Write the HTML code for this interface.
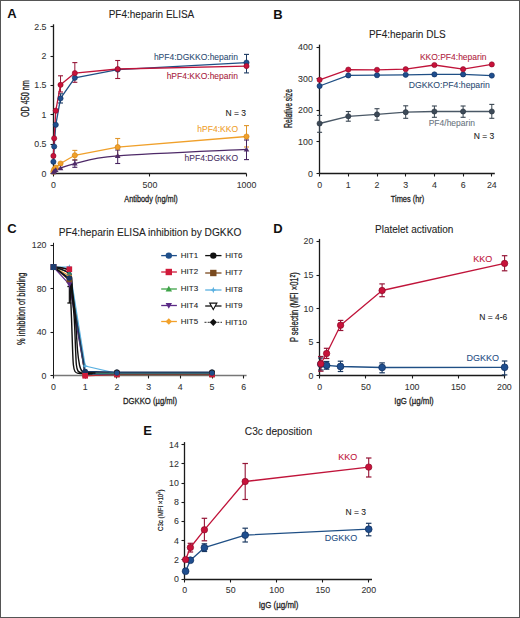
<!DOCTYPE html>
<html><head><meta charset="utf-8"><style>
html,body{margin:0;padding:0;background:#fff;}
body{width:520px;height:618px;overflow:hidden;}
svg{display:block;font-family:"Liberation Sans", sans-serif;}
</style></head><body>
<svg width="520" height="618" viewBox="0 0 520 618">
<rect x="0" y="0" width="520" height="618" fill="#fff"/>
<text x="7.3" y="18.3" font-size="13" text-anchor="start" fill="#111" font-weight="bold" >A</text>
<text x="151.5" y="18" font-size="10" text-anchor="middle" fill="#222" font-weight="normal" stroke="#222" stroke-width="0.08" >PF4:heparin ELISA</text>
<line x1="53.5" y1="173.5" x2="246.5" y2="173.5" stroke="#1a1a1a" stroke-width="1.3" />
<line x1="53.5" y1="24.3" x2="53.5" y2="173.5" stroke="#1a1a1a" stroke-width="1.3" />
<line x1="53.5" y1="173.5" x2="53.5" y2="176.5" stroke="#1a1a1a" stroke-width="1.1" />
<text x="53.4" y="187.5" font-size="8.8" text-anchor="middle" fill="#333" font-weight="normal" stroke="#333" stroke-width="0.08" >0</text>
<line x1="149.5" y1="173.5" x2="149.5" y2="176.5" stroke="#1a1a1a" stroke-width="1.1" />
<text x="149.95" y="187.5" font-size="8.8" text-anchor="middle" fill="#333" font-weight="normal" stroke="#333" stroke-width="0.08" >500</text>
<line x1="246.5" y1="173.5" x2="246.5" y2="176.5" stroke="#1a1a1a" stroke-width="1.1" />
<text x="246.5" y="187.5" font-size="8.8" text-anchor="middle" fill="#333" font-weight="normal" stroke="#333" stroke-width="0.08" >1000</text>
<line x1="50.5" y1="173.5" x2="53.5" y2="173.5" stroke="#1a1a1a" stroke-width="1.1" />
<text x="46.5" y="176.5" font-size="8.8" text-anchor="end" fill="#333" font-weight="normal" stroke="#333" stroke-width="0.08" >0</text>
<line x1="50.5" y1="144.5" x2="53.5" y2="144.5" stroke="#1a1a1a" stroke-width="1.1" />
<text x="46.5" y="147.15" font-size="8.8" text-anchor="end" fill="#333" font-weight="normal" stroke="#333" stroke-width="0.08" >0.5</text>
<line x1="50.5" y1="114.5" x2="53.5" y2="114.5" stroke="#1a1a1a" stroke-width="1.1" />
<text x="46.5" y="117.8" font-size="8.8" text-anchor="end" fill="#333" font-weight="normal" stroke="#333" stroke-width="0.08" >1</text>
<line x1="50.5" y1="85.5" x2="53.5" y2="85.5" stroke="#1a1a1a" stroke-width="1.1" />
<text x="46.5" y="88.45" font-size="8.8" text-anchor="end" fill="#333" font-weight="normal" stroke="#333" stroke-width="0.08" >1.5</text>
<line x1="50.5" y1="56.5" x2="53.5" y2="56.5" stroke="#1a1a1a" stroke-width="1.1" />
<text x="46.5" y="59.1" font-size="8.8" text-anchor="end" fill="#333" font-weight="normal" stroke="#333" stroke-width="0.08" >2</text>
<line x1="50.5" y1="26.5" x2="53.5" y2="26.5" stroke="#1a1a1a" stroke-width="1.1" />
<text x="46.5" y="29.75" font-size="8.8" text-anchor="end" fill="#333" font-weight="normal" stroke="#333" stroke-width="0.08" >2.5</text>
<text x="0" y="0" font-size="9.5" text-anchor="middle" fill="#222" stroke="#222" stroke-width="0.3" font-weight="normal" transform="translate(151,202) scale(0.7735,1)" >Antibody (ng/ml)</text>
<text x="0" y="0" font-size="10" text-anchor="middle" fill="#222" stroke="#222" stroke-width="0.3" font-weight="normal" transform="translate(28.5,98.6) rotate(-90) scale(0.7237,1)" >OD 450 nm</text>
<line x1="246.5" y1="54.4" x2="246.5" y2="72.9" stroke="#1c3a62" stroke-width="1" />
<line x1="244" y1="54.4" x2="249" y2="54.4" stroke="#1c3a62" stroke-width="1.1" />
<line x1="244" y1="72.9" x2="249" y2="72.9" stroke="#1c3a62" stroke-width="1.1" />
<line x1="117.7" y1="60.5" x2="117.7" y2="78.5" stroke="#951536" stroke-width="1" />
<line x1="115.2" y1="60.5" x2="120.2" y2="60.5" stroke="#951536" stroke-width="1.1" />
<line x1="115.2" y1="78.5" x2="120.2" y2="78.5" stroke="#951536" stroke-width="1.1" />
<line x1="74.83" y1="62.6" x2="74.83" y2="82.3" stroke="#951536" stroke-width="1" />
<line x1="72.33" y1="62.6" x2="77.33" y2="62.6" stroke="#951536" stroke-width="1.1" />
<line x1="72.33" y1="82.3" x2="77.33" y2="82.3" stroke="#951536" stroke-width="1.1" />
<line x1="60.54" y1="75.8" x2="60.54" y2="92" stroke="#951536" stroke-width="1" />
<line x1="58.04" y1="75.8" x2="63.04" y2="75.8" stroke="#951536" stroke-width="1.1" />
<line x1="58.04" y1="92" x2="63.04" y2="92" stroke="#951536" stroke-width="1.1" />
<line x1="60.54" y1="93.8" x2="60.54" y2="103" stroke="#1c3a62" stroke-width="1" />
<line x1="58.04" y1="93.8" x2="63.04" y2="93.8" stroke="#1c3a62" stroke-width="1.1" />
<line x1="58.04" y1="103" x2="63.04" y2="103" stroke="#1c3a62" stroke-width="1.1" />
<line x1="246.5" y1="125.6" x2="246.5" y2="147" stroke="#e0962a" stroke-width="1" />
<line x1="244" y1="125.6" x2="249" y2="125.6" stroke="#e0962a" stroke-width="1.1" />
<line x1="244" y1="147" x2="249" y2="147" stroke="#e0962a" stroke-width="1.1" />
<line x1="117.7" y1="138.5" x2="117.7" y2="156" stroke="#e0962a" stroke-width="1" />
<line x1="115.2" y1="138.5" x2="120.2" y2="138.5" stroke="#e0962a" stroke-width="1.1" />
<line x1="115.2" y1="156" x2="120.2" y2="156" stroke="#e0962a" stroke-width="1.1" />
<line x1="74.83" y1="150.4" x2="74.83" y2="160" stroke="#e0962a" stroke-width="1" />
<line x1="72.33" y1="150.4" x2="77.33" y2="150.4" stroke="#e0962a" stroke-width="1.1" />
<line x1="72.33" y1="160" x2="77.33" y2="160" stroke="#e0962a" stroke-width="1.1" />
<line x1="246.5" y1="140" x2="246.5" y2="159.6" stroke="#45235e" stroke-width="1" />
<line x1="244" y1="140" x2="249" y2="140" stroke="#45235e" stroke-width="1.1" />
<line x1="244" y1="159.6" x2="249" y2="159.6" stroke="#45235e" stroke-width="1.1" />
<line x1="117.7" y1="150" x2="117.7" y2="163.5" stroke="#45235e" stroke-width="1" />
<line x1="115.2" y1="150" x2="120.2" y2="150" stroke="#45235e" stroke-width="1.1" />
<line x1="115.2" y1="163.5" x2="120.2" y2="163.5" stroke="#45235e" stroke-width="1.1" />
<line x1="74.83" y1="160" x2="74.83" y2="167.3" stroke="#45235e" stroke-width="1" />
<line x1="72.33" y1="160" x2="77.33" y2="160" stroke="#45235e" stroke-width="1.1" />
<line x1="72.33" y1="167.3" x2="77.33" y2="167.3" stroke="#45235e" stroke-width="1.1" />
<polyline points="53.4,171.74 54.19,169.39 55.78,167.63 60.54,163.52 74.83,155.3 117.7,147.09 246.5,136.52" fill="none" stroke="#f0a02a" stroke-width="1.3" stroke-linejoin="round" />
<path d="M53.4,172.33 C53.53,172.13 53.8,171.54 54.19,171.15 C54.59,170.76 54.72,170.47 55.78,169.98 C56.83,169.49 57.37,169.29 60.54,168.22 C63.72,167.14 65.31,165.58 74.83,163.52 C84.36,161.47 89.09,158.24 117.7,155.89 C146.31,153.54 225.03,150.51 246.5,149.43" fill="none" stroke="#4e2a68" stroke-width="1.3" />
<polyline points="53.4,161.76 54.19,146.5 55.78,124.78 60.54,98.36 74.83,77.82 117.7,69.6 246.5,62.56" fill="none" stroke="#1f4f85" stroke-width="1.3" stroke-linejoin="round" />
<polyline points="53.4,155.89 54.19,138.28 55.78,110.69 60.54,84.86 74.83,73.12 117.7,69.01 246.5,66.08" fill="none" stroke="#c0143a" stroke-width="1.3" stroke-linejoin="round" />
<circle cx="53.4" cy="171.74" r="2.6" fill="#f0a02a" stroke="#d08010" stroke-width="0.6"/>
<circle cx="54.19" cy="169.39" r="2.6" fill="#f0a02a" stroke="#d08010" stroke-width="0.6"/>
<circle cx="55.78" cy="167.63" r="2.6" fill="#f0a02a" stroke="#d08010" stroke-width="0.6"/>
<circle cx="60.54" cy="163.52" r="2.6" fill="#f0a02a" stroke="#d08010" stroke-width="0.6"/>
<circle cx="74.83" cy="155.3" r="2.6" fill="#f0a02a" stroke="#d08010" stroke-width="0.6"/>
<circle cx="117.7" cy="147.09" r="2.6" fill="#f0a02a" stroke="#d08010" stroke-width="0.6"/>
<circle cx="246.5" cy="136.52" r="2.6" fill="#f0a02a" stroke="#d08010" stroke-width="0.6"/>
<path d="M53.4,169.53 L56.2,174.33 L50.6,174.33Z" fill="#4e2a68"/>
<path d="M54.19,168.35 L56.99,173.15 L51.39,173.15Z" fill="#4e2a68"/>
<path d="M55.78,167.18 L58.58,171.98 L52.98,171.98Z" fill="#4e2a68"/>
<path d="M60.54,165.42 L63.34,170.22 L57.74,170.22Z" fill="#4e2a68"/>
<path d="M74.83,160.72 L77.63,165.52 L72.03,165.52Z" fill="#4e2a68"/>
<path d="M117.7,153.09 L120.5,157.89 L114.9,157.89Z" fill="#4e2a68"/>
<path d="M246.5,146.63 L249.3,151.43 L243.7,151.43Z" fill="#4e2a68"/>
<circle cx="53.4" cy="161.76" r="2.6" fill="#1f4e8e" stroke="#0f2d5c" stroke-width="0.6"/>
<circle cx="54.19" cy="146.5" r="2.6" fill="#1f4e8e" stroke="#0f2d5c" stroke-width="0.6"/>
<circle cx="55.78" cy="124.78" r="2.6" fill="#1f4e8e" stroke="#0f2d5c" stroke-width="0.6"/>
<circle cx="60.54" cy="98.36" r="2.6" fill="#1f4e8e" stroke="#0f2d5c" stroke-width="0.6"/>
<circle cx="74.83" cy="77.82" r="2.6" fill="#1f4e8e" stroke="#0f2d5c" stroke-width="0.6"/>
<circle cx="117.7" cy="69.6" r="2.6" fill="#1f4e8e" stroke="#0f2d5c" stroke-width="0.6"/>
<circle cx="246.5" cy="62.56" r="2.6" fill="#1f4e8e" stroke="#0f2d5c" stroke-width="0.6"/>
<circle cx="53.4" cy="155.89" r="2.6" fill="#c8123a" stroke="#8a0a28" stroke-width="0.6"/>
<circle cx="54.19" cy="138.28" r="2.6" fill="#c8123a" stroke="#8a0a28" stroke-width="0.6"/>
<circle cx="55.78" cy="110.69" r="2.6" fill="#c8123a" stroke="#8a0a28" stroke-width="0.6"/>
<circle cx="60.54" cy="84.86" r="2.6" fill="#c8123a" stroke="#8a0a28" stroke-width="0.6"/>
<circle cx="74.83" cy="73.12" r="2.6" fill="#c8123a" stroke="#8a0a28" stroke-width="0.6"/>
<circle cx="117.7" cy="69.01" r="2.6" fill="#c8123a" stroke="#8a0a28" stroke-width="0.6"/>
<circle cx="246.5" cy="66.08" r="2.6" fill="#c8123a" stroke="#8a0a28" stroke-width="0.6"/>
<text x="238" y="59.5" font-size="8.5" text-anchor="end" fill="#2d4c74" font-weight="normal" stroke="#2d4c74" stroke-width="0.08" >hPF4:DGKKO:heparin</text>
<text x="238" y="78.7" font-size="8.5" text-anchor="end" fill="#a81c40" font-weight="normal" stroke="#a81c40" stroke-width="0.08" >hPF4:KKO:heparin</text>
<text x="246" y="115.8" font-size="8.5" text-anchor="end" fill="#222" font-weight="normal" stroke="#222" stroke-width="0.08" >N = 3</text>
<text x="238" y="132" font-size="8.5" text-anchor="end" fill="#f0a02a" font-weight="normal" stroke="#f0a02a" stroke-width="0.08" >hPF4:KKO</text>
<text x="238" y="160.7" font-size="8.5" text-anchor="end" fill="#4a3064" font-weight="normal" stroke="#4a3064" stroke-width="0.08" >hPF4:DGKKO</text>
<text x="273.3" y="18.5" font-size="13" text-anchor="start" fill="#111" font-weight="bold" >B</text>
<text x="407.3" y="37.9" font-size="10" text-anchor="middle" fill="#222" font-weight="normal" stroke="#222" stroke-width="0.08" >PF4:heparin DLS</text>
<line x1="319.5" y1="173.5" x2="494.8" y2="173.5" stroke="#1a1a1a" stroke-width="1.3" />
<line x1="319.5" y1="44.6" x2="319.5" y2="173.5" stroke="#1a1a1a" stroke-width="1.3" />
<line x1="319.5" y1="173.5" x2="319.5" y2="176.5" stroke="#1a1a1a" stroke-width="1.1" />
<text x="319.6" y="187.8" font-size="8.8" text-anchor="middle" fill="#333" font-weight="normal" stroke="#333" stroke-width="0.08" >0</text>
<line x1="348.5" y1="173.5" x2="348.5" y2="176.5" stroke="#1a1a1a" stroke-width="1.1" />
<text x="348.3" y="187.8" font-size="8.8" text-anchor="middle" fill="#333" font-weight="normal" stroke="#333" stroke-width="0.08" >1</text>
<line x1="377.5" y1="173.5" x2="377.5" y2="176.5" stroke="#1a1a1a" stroke-width="1.1" />
<text x="377" y="187.8" font-size="8.8" text-anchor="middle" fill="#333" font-weight="normal" stroke="#333" stroke-width="0.08" >2</text>
<line x1="405.5" y1="173.5" x2="405.5" y2="176.5" stroke="#1a1a1a" stroke-width="1.1" />
<text x="405.7" y="187.8" font-size="8.8" text-anchor="middle" fill="#333" font-weight="normal" stroke="#333" stroke-width="0.08" >3</text>
<line x1="434.5" y1="173.5" x2="434.5" y2="176.5" stroke="#1a1a1a" stroke-width="1.1" />
<text x="434.4" y="187.8" font-size="8.8" text-anchor="middle" fill="#333" font-weight="normal" stroke="#333" stroke-width="0.08" >4</text>
<line x1="463.5" y1="173.5" x2="463.5" y2="176.5" stroke="#1a1a1a" stroke-width="1.1" />
<text x="463.1" y="187.8" font-size="8.8" text-anchor="middle" fill="#333" font-weight="normal" stroke="#333" stroke-width="0.08" >6</text>
<line x1="491.5" y1="173.5" x2="491.5" y2="176.5" stroke="#1a1a1a" stroke-width="1.1" />
<text x="491.8" y="187.8" font-size="8.8" text-anchor="middle" fill="#333" font-weight="normal" stroke="#333" stroke-width="0.08" >24</text>
<line x1="316.5" y1="173.5" x2="319.5" y2="173.5" stroke="#1a1a1a" stroke-width="1.1" />
<text x="312.8" y="176.5" font-size="8.8" text-anchor="end" fill="#333" font-weight="normal" stroke="#333" stroke-width="0.08" >0</text>
<line x1="316.5" y1="141.5" x2="319.5" y2="141.5" stroke="#1a1a1a" stroke-width="1.1" />
<text x="312.8" y="144.9" font-size="8.8" text-anchor="end" fill="#333" font-weight="normal" stroke="#333" stroke-width="0.08" >100</text>
<line x1="316.5" y1="110.5" x2="319.5" y2="110.5" stroke="#1a1a1a" stroke-width="1.1" />
<text x="312.8" y="113.3" font-size="8.8" text-anchor="end" fill="#333" font-weight="normal" stroke="#333" stroke-width="0.08" >200</text>
<line x1="316.5" y1="78.5" x2="319.5" y2="78.5" stroke="#1a1a1a" stroke-width="1.1" />
<text x="312.8" y="81.7" font-size="8.8" text-anchor="end" fill="#333" font-weight="normal" stroke="#333" stroke-width="0.08" >300</text>
<line x1="316.5" y1="47.5" x2="319.5" y2="47.5" stroke="#1a1a1a" stroke-width="1.1" />
<text x="312.8" y="50.1" font-size="8.8" text-anchor="end" fill="#333" font-weight="normal" stroke="#333" stroke-width="0.08" >400</text>
<text x="0" y="0" font-size="9.5" text-anchor="middle" fill="#222" stroke="#222" stroke-width="0.3" font-weight="normal" transform="translate(407.5,202) scale(0.7805,1)" >Times (hr)</text>
<text x="0" y="0" font-size="10" text-anchor="middle" fill="#222" stroke="#222" stroke-width="0.3" font-weight="normal" transform="translate(292.3,108.4) rotate(-90) scale(0.6880,1)" >Relative size</text>
<line x1="319.6" y1="115.4" x2="319.6" y2="132.3" stroke="#3a4652" stroke-width="1" />
<line x1="317.1" y1="115.4" x2="322.1" y2="115.4" stroke="#3a4652" stroke-width="1.1" />
<line x1="317.1" y1="132.3" x2="322.1" y2="132.3" stroke="#3a4652" stroke-width="1.1" />
<line x1="348.3" y1="111.5" x2="348.3" y2="121.2" stroke="#3a4652" stroke-width="1" />
<line x1="345.8" y1="111.5" x2="350.8" y2="111.5" stroke="#3a4652" stroke-width="1.1" />
<line x1="345.8" y1="121.2" x2="350.8" y2="121.2" stroke="#3a4652" stroke-width="1.1" />
<line x1="377" y1="108.7" x2="377" y2="120.2" stroke="#3a4652" stroke-width="1" />
<line x1="374.5" y1="108.7" x2="379.5" y2="108.7" stroke="#3a4652" stroke-width="1.1" />
<line x1="374.5" y1="120.2" x2="379.5" y2="120.2" stroke="#3a4652" stroke-width="1.1" />
<line x1="405.7" y1="105.8" x2="405.7" y2="118.3" stroke="#3a4652" stroke-width="1" />
<line x1="403.2" y1="105.8" x2="408.2" y2="105.8" stroke="#3a4652" stroke-width="1.1" />
<line x1="403.2" y1="118.3" x2="408.2" y2="118.3" stroke="#3a4652" stroke-width="1.1" />
<line x1="434.4" y1="106" x2="434.4" y2="117.3" stroke="#3a4652" stroke-width="1" />
<line x1="431.9" y1="106" x2="436.9" y2="106" stroke="#3a4652" stroke-width="1.1" />
<line x1="431.9" y1="117.3" x2="436.9" y2="117.3" stroke="#3a4652" stroke-width="1.1" />
<line x1="463.1" y1="106" x2="463.1" y2="117.3" stroke="#3a4652" stroke-width="1" />
<line x1="460.6" y1="106" x2="465.6" y2="106" stroke="#3a4652" stroke-width="1.1" />
<line x1="460.6" y1="117.3" x2="465.6" y2="117.3" stroke="#3a4652" stroke-width="1.1" />
<line x1="491.8" y1="104.4" x2="491.8" y2="118.3" stroke="#3a4652" stroke-width="1" />
<line x1="489.3" y1="104.4" x2="494.3" y2="104.4" stroke="#3a4652" stroke-width="1.1" />
<line x1="489.3" y1="118.3" x2="494.3" y2="118.3" stroke="#3a4652" stroke-width="1.1" />
<polyline points="319.6,123.5 348.3,116.3 377,114.4 405.7,112.2 434.4,111.5 463.1,111.5 491.8,111.5" fill="none" stroke="#4a5866" stroke-width="1.3" stroke-linejoin="round" />
<polyline points="319.6,86 348.3,75.4 377,75.2 405.7,74.8 434.4,74.4 463.1,74.4 491.8,75.6" fill="none" stroke="#1f4f85" stroke-width="1.3" stroke-linejoin="round" />
<polyline points="319.6,79.8 348.3,69.6 377,69.8 405.7,69.2 434.4,65 463.1,69.2 491.8,64.4" fill="none" stroke="#c0143a" stroke-width="1.3" stroke-linejoin="round" />
<circle cx="319.6" cy="123.5" r="2.6" fill="#3d4a58" stroke="#2a3440" stroke-width="0.6"/>
<circle cx="348.3" cy="116.3" r="2.6" fill="#3d4a58" stroke="#2a3440" stroke-width="0.6"/>
<circle cx="377" cy="114.4" r="2.6" fill="#3d4a58" stroke="#2a3440" stroke-width="0.6"/>
<circle cx="405.7" cy="112.2" r="2.6" fill="#3d4a58" stroke="#2a3440" stroke-width="0.6"/>
<circle cx="434.4" cy="111.5" r="2.6" fill="#3d4a58" stroke="#2a3440" stroke-width="0.6"/>
<circle cx="463.1" cy="111.5" r="2.6" fill="#3d4a58" stroke="#2a3440" stroke-width="0.6"/>
<circle cx="491.8" cy="111.5" r="2.6" fill="#3d4a58" stroke="#2a3440" stroke-width="0.6"/>
<circle cx="319.6" cy="86" r="2.6" fill="#1f4e8e" stroke="#0f2d5c" stroke-width="0.6"/>
<circle cx="348.3" cy="75.4" r="2.6" fill="#1f4e8e" stroke="#0f2d5c" stroke-width="0.6"/>
<circle cx="377" cy="75.2" r="2.6" fill="#1f4e8e" stroke="#0f2d5c" stroke-width="0.6"/>
<circle cx="405.7" cy="74.8" r="2.6" fill="#1f4e8e" stroke="#0f2d5c" stroke-width="0.6"/>
<circle cx="434.4" cy="74.4" r="2.6" fill="#1f4e8e" stroke="#0f2d5c" stroke-width="0.6"/>
<circle cx="463.1" cy="74.4" r="2.6" fill="#1f4e8e" stroke="#0f2d5c" stroke-width="0.6"/>
<circle cx="491.8" cy="75.6" r="2.6" fill="#1f4e8e" stroke="#0f2d5c" stroke-width="0.6"/>
<circle cx="319.6" cy="79.8" r="2.6" fill="#c8123a" stroke="#8a0a28" stroke-width="0.6"/>
<circle cx="348.3" cy="69.6" r="2.6" fill="#c8123a" stroke="#8a0a28" stroke-width="0.6"/>
<circle cx="377" cy="69.8" r="2.6" fill="#c8123a" stroke="#8a0a28" stroke-width="0.6"/>
<circle cx="405.7" cy="69.2" r="2.6" fill="#c8123a" stroke="#8a0a28" stroke-width="0.6"/>
<circle cx="434.4" cy="65" r="2.6" fill="#c8123a" stroke="#8a0a28" stroke-width="0.6"/>
<circle cx="463.1" cy="69.2" r="2.6" fill="#c8123a" stroke="#8a0a28" stroke-width="0.6"/>
<circle cx="491.8" cy="64.4" r="2.6" fill="#c8123a" stroke="#8a0a28" stroke-width="0.6"/>
<text x="486.5" y="59.6" font-size="8.5" text-anchor="end" fill="#b01c40" font-weight="normal" stroke="#b01c40" stroke-width="0.08" >KKO:PF4:heparin</text>
<text x="489.8" y="88.3" font-size="8.7" text-anchor="end" fill="#2d4c74" font-weight="normal" stroke="#2d4c74" stroke-width="0.08" >DGKKO:PF4:heparin</text>
<text x="475" y="125.6" font-size="8.5" text-anchor="end" fill="#6a7480" font-weight="normal" stroke="#6a7480" stroke-width="0.08" >PF4/heparin</text>
<text x="494.2" y="138.5" font-size="8.5" text-anchor="end" fill="#222" font-weight="normal" stroke="#222" stroke-width="0.08" >N = 3</text>
<text x="7.3" y="232.6" font-size="13" text-anchor="start" fill="#111" font-weight="bold" >C</text>
<text x="0" y="0" font-size="10" text-anchor="middle" fill="#222" stroke="#222" stroke-width="0.08" font-weight="normal" transform="translate(150,235.6) scale(1.0193,1)" >PF4:heparin ELISA inhibition by DGKKO</text>
<line x1="53.5" y1="375.5" x2="246.6" y2="375.5" stroke="#777" stroke-width="1.6" />
<line x1="53.5" y1="242.8" x2="53.5" y2="375.5" stroke="#1a1a1a" stroke-width="1.0" />
<line x1="53.5" y1="375.5" x2="53.5" y2="378.5" stroke="#1a1a1a" stroke-width="1.1" />
<text x="53.5" y="390" font-size="8.8" text-anchor="middle" fill="#333" font-weight="normal" stroke="#333" stroke-width="0.08" >0</text>
<line x1="85.5" y1="375.5" x2="85.5" y2="378.5" stroke="#1a1a1a" stroke-width="1.1" />
<text x="85.2" y="390" font-size="8.8" text-anchor="middle" fill="#333" font-weight="normal" stroke="#333" stroke-width="0.08" >1</text>
<line x1="116.5" y1="375.5" x2="116.5" y2="378.5" stroke="#1a1a1a" stroke-width="1.1" />
<text x="116.9" y="390" font-size="8.8" text-anchor="middle" fill="#333" font-weight="normal" stroke="#333" stroke-width="0.08" >2</text>
<line x1="148.5" y1="375.5" x2="148.5" y2="378.5" stroke="#1a1a1a" stroke-width="1.1" />
<text x="148.6" y="390" font-size="8.8" text-anchor="middle" fill="#333" font-weight="normal" stroke="#333" stroke-width="0.08" >3</text>
<line x1="180.5" y1="375.5" x2="180.5" y2="378.5" stroke="#1a1a1a" stroke-width="1.1" />
<text x="180.3" y="390" font-size="8.8" text-anchor="middle" fill="#333" font-weight="normal" stroke="#333" stroke-width="0.08" >4</text>
<line x1="212.5" y1="375.5" x2="212.5" y2="378.5" stroke="#1a1a1a" stroke-width="1.1" />
<text x="212" y="390" font-size="8.8" text-anchor="middle" fill="#333" font-weight="normal" stroke="#333" stroke-width="0.08" >5</text>
<line x1="243.5" y1="375.5" x2="243.5" y2="378.5" stroke="#1a1a1a" stroke-width="1.1" />
<text x="243.7" y="390" font-size="8.8" text-anchor="middle" fill="#333" font-weight="normal" stroke="#333" stroke-width="0.08" >6</text>
<line x1="50.5" y1="375.5" x2="53.5" y2="375.5" stroke="#1a1a1a" stroke-width="1.1" />
<text x="46.5" y="378.8" font-size="8.8" text-anchor="end" fill="#333" font-weight="normal" stroke="#333" stroke-width="0.08" >0</text>
<line x1="50.5" y1="332.5" x2="53.5" y2="332.5" stroke="#1a1a1a" stroke-width="1.1" />
<text x="46.5" y="335.3" font-size="8.8" text-anchor="end" fill="#333" font-weight="normal" stroke="#333" stroke-width="0.08" >40</text>
<line x1="50.5" y1="288.5" x2="53.5" y2="288.5" stroke="#1a1a1a" stroke-width="1.1" />
<text x="46.5" y="291.8" font-size="8.8" text-anchor="end" fill="#333" font-weight="normal" stroke="#333" stroke-width="0.08" >80</text>
<line x1="50.5" y1="245.5" x2="53.5" y2="245.5" stroke="#1a1a1a" stroke-width="1.1" />
<text x="46.5" y="248.3" font-size="8.8" text-anchor="end" fill="#333" font-weight="normal" stroke="#333" stroke-width="0.08" >120</text>
<text x="0" y="0" font-size="9.5" text-anchor="middle" fill="#222" stroke="#222" stroke-width="0.3" font-weight="normal" transform="translate(150,404) scale(0.8096,1)" >DGKKO (µg/ml)</text>
<text x="0" y="0" font-size="10" text-anchor="middle" fill="#222" stroke="#222" stroke-width="0.3" font-weight="normal" transform="translate(25,308.8) rotate(-90) scale(0.7442,1)" >% inhibition of binding</text>
<line x1="69.35" y1="286.5" x2="69.35" y2="303" stroke="#111" stroke-width="1.2" />
<line x1="67.35" y1="286.5" x2="71.35" y2="286.5" stroke="#111" stroke-width="1.32" />
<line x1="67.35" y1="303" x2="71.35" y2="303" stroke="#111" stroke-width="1.32" />
<line x1="85" y1="373.4" x2="212" y2="373.4" stroke="#111" stroke-width="2.2" />
<polyline points="53.5,267.05 69.35,269.23 85.2,375.8 116.9,374.39 212,374.39" fill="none" stroke="#d01a3a" stroke-width="1.2" stroke-linejoin="round" />
<polyline points="53.5,267.05 69.35,267.05 85.2,366.01 116.9,373.41 212,373.41" fill="none" stroke="#5ab0e0" stroke-width="1.2" stroke-linejoin="round" />
<polyline points="53.5,267.05 69.35,275.75 85.2,374.71 116.9,374.17 212,374.17" fill="none" stroke="#f2a12b" stroke-width="1.2" stroke-linejoin="round" />
<polyline points="53.5,267.05 69.35,280.1 85.2,374.71 116.9,374.6 212,374.6" fill="none" stroke="#7a4a1e" stroke-width="1.2" stroke-linejoin="round" />
<polyline points="53.5,267.05 69.35,284.45 85.2,374.71 116.9,373.62 212,373.62" fill="none" stroke="#5b2a86" stroke-width="1.2" stroke-linejoin="round" />
<polyline points="53.5,267.05 69.35,272.49 85.2,374.17 116.9,373.19 212,373.19" fill="none" stroke="#2f7a6a" stroke-width="1.2" stroke-linejoin="round" />
<polyline points="53.5,267.05 69.35,277.93 85.2,371.45 116.9,372.21 212,372.21" fill="none" stroke="#1a3560" stroke-width="1.2" stroke-linejoin="round" />
<path d="M53.5,266.8 C56.08,269 66.2,275.8 69,280 C71.8,284.2 69.88,285.67 70.3,292 C70.72,298.33 71.12,308.33 71.5,318 C71.88,327.67 72.28,342.17 72.6,350 C72.92,357.83 73,361.42 73.4,365 C73.8,368.58 74.15,370.1 75,371.5 C75.85,372.9 76.83,373.02 78.5,373.4 C80.17,373.78 82.75,373.73 85,373.8 C87.25,373.87 90.83,373.8 92,373.8" fill="none" stroke="#111" stroke-width="1.4" stroke-linecap="round"/>
<path d="M53.5,266.8 C56.15,268 66.35,269.8 69.4,274 C72.45,278.2 71,284.67 71.8,292 C72.6,299.33 73.57,308.33 74.2,318 C74.83,327.67 75.23,342.17 75.6,350 C75.97,357.83 76,361.5 76.4,365 C76.8,368.5 77.15,369.68 78,371 C78.85,372.32 80.17,372.5 81.5,372.9 C82.83,373.3 84.25,373.32 86,373.4 C87.75,373.48 91,373.4 92,373.4" fill="none" stroke="#111" stroke-width="1.4" stroke-linecap="round"/>
<path d="M53.5,266.8 C56.18,267.5 66.42,266.8 69.6,271 C72.78,275.2 71.63,284.17 72.6,292 C73.57,299.83 74.58,308.33 75.4,318 C76.22,327.67 76.82,342.17 77.5,350 C78.18,357.83 78.83,361.58 79.5,365 C80.17,368.42 80.67,369.23 81.5,370.5 C82.33,371.77 83.08,372.18 84.5,372.6 C85.92,373.02 88.25,372.93 90,373 C91.75,373.07 94.17,373 95,373" fill="none" stroke="#111" stroke-width="1.4" stroke-linecap="round"/>
<path d="M53.5,264.25 L54.62,267.05 L53.5,269.85 L52.38,267.05Z M50.7,267.05 L53.5,265.93 L56.3,267.05 L53.5,268.17Z" fill="#5ab0e0"/>
<path d="M69.35,264.25 L70.47,267.05 L69.35,269.85 L68.23,267.05Z M66.55,267.05 L69.35,265.93 L72.15,267.05 L69.35,268.17Z" fill="#5ab0e0"/>
<path d="M85.2,363.21 L86.32,366.01 L85.2,368.81 L84.08,366.01Z M82.4,366.01 L85.2,364.89 L88,366.01 L85.2,367.13Z" fill="#5ab0e0"/>
<path d="M116.9,370.61 L118.02,373.41 L116.9,376.21 L115.78,373.41Z M114.1,373.41 L116.9,372.29 L119.7,373.41 L116.9,374.53Z" fill="#5ab0e0"/>
<path d="M212,370.61 L213.12,373.41 L212,376.21 L210.88,373.41Z M209.2,373.41 L212,372.29 L214.8,373.41 L212,374.53Z" fill="#5ab0e0"/>
<path d="M53.5,264.25 L56.3,267.05 L53.5,269.85 L50.7,267.05Z" fill="#f2a12b"/>
<path d="M69.35,272.95 L72.15,275.75 L69.35,278.55 L66.55,275.75Z" fill="#f2a12b"/>
<path d="M85.2,371.91 L88,374.71 L85.2,377.51 L82.4,374.71Z" fill="#f2a12b"/>
<path d="M116.9,371.37 L119.7,374.17 L116.9,376.97 L114.1,374.17Z" fill="#f2a12b"/>
<path d="M212,371.37 L214.8,374.17 L212,376.97 L209.2,374.17Z" fill="#f2a12b"/>
<rect x="50.7" y="264.25" width="5.6" height="5.6" fill="#7a4a1e"/>
<rect x="66.55" y="277.3" width="5.6" height="5.6" fill="#7a4a1e"/>
<rect x="82.4" y="371.91" width="5.6" height="5.6" fill="#7a4a1e"/>
<rect x="114.1" y="371.8" width="5.6" height="5.6" fill="#7a4a1e"/>
<rect x="209.2" y="371.8" width="5.6" height="5.6" fill="#7a4a1e"/>
<path d="M53.5,269.85 L56.3,264.81 L50.7,264.81Z" fill="#5b2a86"/>
<path d="M69.35,287.25 L72.15,282.21 L66.55,282.21Z" fill="#5b2a86"/>
<path d="M85.2,377.51 L88,372.47 L82.4,372.47Z" fill="#5b2a86"/>
<path d="M116.9,376.43 L119.7,371.38 L114.1,371.38Z" fill="#5b2a86"/>
<path d="M212,376.43 L214.8,371.38 L209.2,371.38Z" fill="#5b2a86"/>
<path d="M53.5,264.25 L56.3,269.29 L50.7,269.29Z" fill="#2f7a6a"/>
<path d="M69.35,269.69 L72.15,274.73 L66.55,274.73Z" fill="#2f7a6a"/>
<path d="M85.2,371.37 L88,376.41 L82.4,376.41Z" fill="#2f7a6a"/>
<path d="M116.9,370.39 L119.7,375.43 L114.1,375.43Z" fill="#2f7a6a"/>
<path d="M212,370.39 L214.8,375.43 L209.2,375.43Z" fill="#2f7a6a"/>
<circle cx="69.35" cy="277.93" r="2.8" fill="#1a3560"/>
<circle cx="85.2" cy="371.45" r="2.8" fill="#1a3560"/>
<circle cx="116.9" cy="372.21" r="2.8" fill="#1a3560"/>
<circle cx="212" cy="372.21" r="2.8" fill="#1a3560"/>
<rect x="50.7" y="264.25" width="5.6" height="5.6" fill="#d01a3a"/>
<rect x="66.55" y="266.43" width="5.6" height="5.6" fill="#d01a3a"/>
<rect x="82.4" y="373" width="5.6" height="5.6" fill="#d01a3a"/>
<rect x="114.1" y="371.59" width="5.6" height="5.6" fill="#d01a3a"/>
<rect x="209.2" y="371.59" width="5.6" height="5.6" fill="#d01a3a"/>
<rect x="50.5" y="264.05" width="6" height="6" fill="#1f3f70"/>
<circle cx="116.9" cy="372.54" r="3" fill="#222"/>
<circle cx="212" cy="372.54" r="3" fill="#222"/>
<circle cx="116.9" cy="373.08" r="2.5" fill="#1f4f8a"/>
<circle cx="212" cy="373.08" r="2.5" fill="#1f4f8a"/>
<line x1="161.2" y1="255.6" x2="176.9" y2="255.6" stroke="#1f4f8a" stroke-width="1.3" />
<circle cx="168.8" cy="255.6" r="3.2" fill="#1f4f8a"/>
<text x="180.8" y="257.9" font-size="8" text-anchor="start" fill="#222" font-weight="normal" stroke="#222" stroke-width="0.08" >HIT1</text>
<line x1="161.2" y1="272" x2="176.9" y2="272" stroke="#d01a3a" stroke-width="1.3" />
<rect x="165.6" y="268.8" width="6.4" height="6.4" fill="#d01a3a"/>
<text x="180.8" y="274.3" font-size="8" text-anchor="start" fill="#222" font-weight="normal" stroke="#222" stroke-width="0.08" >HIT2</text>
<line x1="161.2" y1="289" x2="176.9" y2="289" stroke="#3ea348" stroke-width="1.3" />
<path d="M168.8,285.8 L172,291.56 L165.6,291.56Z" fill="#3ea348"/>
<text x="180.8" y="291.3" font-size="8" text-anchor="start" fill="#222" font-weight="normal" stroke="#222" stroke-width="0.08" >HIT3</text>
<line x1="161.2" y1="305.5" x2="176.9" y2="305.5" stroke="#5b2a86" stroke-width="1.3" />
<path d="M168.8,308.7 L172,302.94 L165.6,302.94Z" fill="#5b2a86"/>
<text x="180.8" y="307.8" font-size="8" text-anchor="start" fill="#222" font-weight="normal" stroke="#222" stroke-width="0.08" >HIT4</text>
<line x1="161.2" y1="321.5" x2="176.9" y2="321.5" stroke="#f2a12b" stroke-width="1.3" />
<path d="M168.8,318.3 L172,321.5 L168.8,324.7 L165.6,321.5Z" fill="#f2a12b"/>
<text x="180.8" y="323.8" font-size="8" text-anchor="start" fill="#222" font-weight="normal" stroke="#222" stroke-width="0.08" >HIT5</text>
<line x1="205.2" y1="255.6" x2="221.5" y2="255.6" stroke="#111" stroke-width="1.3" />
<circle cx="213.3" cy="255.6" r="3.2" fill="#111"/>
<text x="225.2" y="257.9" font-size="8" text-anchor="start" fill="#222" font-weight="normal" stroke="#222" stroke-width="0.08" >HIT6</text>
<line x1="205.2" y1="273" x2="221.5" y2="273" stroke="#7a4a1e" stroke-width="1.3" />
<rect x="210.1" y="269.8" width="6.4" height="6.4" fill="#7a4a1e"/>
<text x="225.2" y="275.3" font-size="8" text-anchor="start" fill="#222" font-weight="normal" stroke="#222" stroke-width="0.08" >HIT7</text>
<line x1="205.2" y1="290" x2="221.5" y2="290" stroke="#5ab0e0" stroke-width="1.3" />
<path d="M213.3,286.8 L214.58,290 L213.3,293.2 L212.02,290Z M210.1,290 L213.3,288.72 L216.5,290 L213.3,291.28Z" fill="#5ab0e0"/>
<text x="225.2" y="292.3" font-size="8" text-anchor="start" fill="#222" font-weight="normal" stroke="#222" stroke-width="0.08" >HIT8</text>
<line x1="205.2" y1="306" x2="221.5" y2="306" stroke="#111" stroke-width="1.3" />
<path d="M213.3,309.6 L216.9,303.12 L209.7,303.12Z" fill="#fff" stroke="#111" stroke-width="1.1"/>
<text x="225.2" y="308.3" font-size="8" text-anchor="start" fill="#222" font-weight="normal" stroke="#222" stroke-width="0.08" >HIT9</text>
<line x1="204.5" y1="322.3" x2="222" y2="322.3" stroke="#111" stroke-width="0.9" stroke-dasharray="2,1.2"/>
<path d="M213.3,318.7 L216.9,322.3 L213.3,325.9 L209.7,322.3Z" fill="#111"/>
<text x="225.2" y="324.6" font-size="8" text-anchor="start" fill="#222" font-weight="normal" stroke="#222" stroke-width="0.08" >HIT10</text>
<text x="273.3" y="232.6" font-size="13" text-anchor="start" fill="#111" font-weight="bold" >D</text>
<text x="414.2" y="232.7" font-size="10" text-anchor="middle" fill="#222" font-weight="normal" stroke="#222" stroke-width="0.08" >Platelet activation</text>
<line x1="319.5" y1="375.5" x2="505.4" y2="375.5" stroke="#1a1a1a" stroke-width="1.3" />
<line x1="319.5" y1="238.9" x2="319.5" y2="375.5" stroke="#1a1a1a" stroke-width="1.3" />
<line x1="319.5" y1="375.5" x2="319.5" y2="378.5" stroke="#1a1a1a" stroke-width="1.1" />
<text x="319.8" y="389.8" font-size="8.8" text-anchor="middle" fill="#333" font-weight="normal" stroke="#333" stroke-width="0.08" >0</text>
<line x1="365.5" y1="375.5" x2="365.5" y2="378.5" stroke="#1a1a1a" stroke-width="1.1" />
<text x="365.95" y="389.8" font-size="8.8" text-anchor="middle" fill="#333" font-weight="normal" stroke="#333" stroke-width="0.08" >50</text>
<line x1="412.5" y1="375.5" x2="412.5" y2="378.5" stroke="#1a1a1a" stroke-width="1.1" />
<text x="412.1" y="389.8" font-size="8.8" text-anchor="middle" fill="#333" font-weight="normal" stroke="#333" stroke-width="0.08" >100</text>
<line x1="458.5" y1="375.5" x2="458.5" y2="378.5" stroke="#1a1a1a" stroke-width="1.1" />
<text x="458.25" y="389.8" font-size="8.8" text-anchor="middle" fill="#333" font-weight="normal" stroke="#333" stroke-width="0.08" >150</text>
<line x1="504.5" y1="375.5" x2="504.5" y2="378.5" stroke="#1a1a1a" stroke-width="1.1" />
<text x="504.4" y="389.8" font-size="8.8" text-anchor="middle" fill="#333" font-weight="normal" stroke="#333" stroke-width="0.08" >200</text>
<line x1="316.5" y1="375.5" x2="319.5" y2="375.5" stroke="#1a1a1a" stroke-width="1.1" />
<text x="313.3" y="378.8" font-size="8.8" text-anchor="end" fill="#333" font-weight="normal" stroke="#333" stroke-width="0.08" >0</text>
<line x1="316.5" y1="342.5" x2="319.5" y2="342.5" stroke="#1a1a1a" stroke-width="1.1" />
<text x="313.3" y="345.2" font-size="8.8" text-anchor="end" fill="#333" font-weight="normal" stroke="#333" stroke-width="0.08" >5</text>
<line x1="316.5" y1="308.5" x2="319.5" y2="308.5" stroke="#1a1a1a" stroke-width="1.1" />
<text x="313.3" y="311.6" font-size="8.8" text-anchor="end" fill="#333" font-weight="normal" stroke="#333" stroke-width="0.08" >10</text>
<line x1="316.5" y1="275.5" x2="319.5" y2="275.5" stroke="#1a1a1a" stroke-width="1.1" />
<text x="313.3" y="278" font-size="8.8" text-anchor="end" fill="#333" font-weight="normal" stroke="#333" stroke-width="0.08" >15</text>
<line x1="316.5" y1="241.5" x2="319.5" y2="241.5" stroke="#1a1a1a" stroke-width="1.1" />
<text x="313.3" y="244.4" font-size="8.8" text-anchor="end" fill="#333" font-weight="normal" stroke="#333" stroke-width="0.08" >20</text>
<text x="0" y="0" font-size="9.5" text-anchor="middle" fill="#222" stroke="#222" stroke-width="0.3" font-weight="normal" transform="translate(414,404.2) scale(0.8281,1)" >IgG (µg/ml)</text>
<g transform="translate(298.3,307.2) rotate(-90) scale(0.75,1)"><text x="0" y="0" font-size="10" text-anchor="middle" fill="#222" stroke="#222" stroke-width="0.3">P selectin (MFI ×01<tspan dy="-3.5" font-size="6.5">2</tspan><tspan dy="3.5">)</tspan></text></g>
<line x1="320.8" y1="358" x2="320.8" y2="370" stroke="#1c3a62" stroke-width="1.1" />
<line x1="318.05" y1="358" x2="323.55" y2="358" stroke="#1c3a62" stroke-width="1.2100000000000002" />
<line x1="318.05" y1="370" x2="323.55" y2="370" stroke="#1c3a62" stroke-width="1.2100000000000002" />
<line x1="326.6" y1="361.5" x2="326.6" y2="369.2" stroke="#1c3a62" stroke-width="1.1" />
<line x1="323.85" y1="361.5" x2="329.35" y2="361.5" stroke="#1c3a62" stroke-width="1.2100000000000002" />
<line x1="323.85" y1="369.2" x2="329.35" y2="369.2" stroke="#1c3a62" stroke-width="1.2100000000000002" />
<line x1="340.5" y1="361.2" x2="340.5" y2="371.5" stroke="#1c3a62" stroke-width="1.1" />
<line x1="337.75" y1="361.2" x2="343.25" y2="361.2" stroke="#1c3a62" stroke-width="1.2100000000000002" />
<line x1="337.75" y1="371.5" x2="343.25" y2="371.5" stroke="#1c3a62" stroke-width="1.2100000000000002" />
<line x1="382.1" y1="362.9" x2="382.1" y2="372.8" stroke="#1c3a62" stroke-width="1.1" />
<line x1="379.35" y1="362.9" x2="384.85" y2="362.9" stroke="#1c3a62" stroke-width="1.2100000000000002" />
<line x1="379.35" y1="372.8" x2="384.85" y2="372.8" stroke="#1c3a62" stroke-width="1.2100000000000002" />
<line x1="504.6" y1="361" x2="504.6" y2="374.9" stroke="#1c3a62" stroke-width="1.1" />
<line x1="501.85" y1="361" x2="507.35" y2="361" stroke="#1c3a62" stroke-width="1.2100000000000002" />
<line x1="501.85" y1="374.9" x2="507.35" y2="374.9" stroke="#1c3a62" stroke-width="1.2100000000000002" />
<polyline points="320.8,364.2 326.6,365.4 340.5,366.5 382.1,367.5 504.6,367.3" fill="none" stroke="#1f4f85" stroke-width="1.3" stroke-linejoin="round" />
<circle cx="320.8" cy="364.2" r="3.4" fill="#1f4e8e" stroke="#0f2d5c" stroke-width="0.7"/>
<circle cx="326.6" cy="365.4" r="3.4" fill="#1f4e8e" stroke="#0f2d5c" stroke-width="0.7"/>
<circle cx="340.5" cy="366.5" r="3.4" fill="#1f4e8e" stroke="#0f2d5c" stroke-width="0.7"/>
<circle cx="382.1" cy="367.5" r="3.4" fill="#1f4e8e" stroke="#0f2d5c" stroke-width="0.7"/>
<circle cx="504.6" cy="367.3" r="3.4" fill="#1f4e8e" stroke="#0f2d5c" stroke-width="0.7"/>
<line x1="320.8" y1="356.5" x2="320.8" y2="371.2" stroke="#951536" stroke-width="1.1" />
<line x1="318.05" y1="356.5" x2="323.55" y2="356.5" stroke="#951536" stroke-width="1.2100000000000002" />
<line x1="318.05" y1="371.2" x2="323.55" y2="371.2" stroke="#951536" stroke-width="1.2100000000000002" />
<line x1="326.6" y1="348.3" x2="326.6" y2="358.5" stroke="#951536" stroke-width="1.1" />
<line x1="323.85" y1="348.3" x2="329.35" y2="348.3" stroke="#951536" stroke-width="1.2100000000000002" />
<line x1="323.85" y1="358.5" x2="329.35" y2="358.5" stroke="#951536" stroke-width="1.2100000000000002" />
<line x1="340.6" y1="320.4" x2="340.6" y2="330.5" stroke="#951536" stroke-width="1.1" />
<line x1="337.85" y1="320.4" x2="343.35" y2="320.4" stroke="#951536" stroke-width="1.2100000000000002" />
<line x1="337.85" y1="330.5" x2="343.35" y2="330.5" stroke="#951536" stroke-width="1.2100000000000002" />
<line x1="382.1" y1="283.9" x2="382.1" y2="296.7" stroke="#951536" stroke-width="1.1" />
<line x1="379.35" y1="283.9" x2="384.85" y2="283.9" stroke="#951536" stroke-width="1.2100000000000002" />
<line x1="379.35" y1="296.7" x2="384.85" y2="296.7" stroke="#951536" stroke-width="1.2100000000000002" />
<line x1="504.6" y1="255.7" x2="504.6" y2="270.8" stroke="#951536" stroke-width="1.1" />
<line x1="501.85" y1="255.7" x2="507.35" y2="255.7" stroke="#951536" stroke-width="1.2100000000000002" />
<line x1="501.85" y1="270.8" x2="507.35" y2="270.8" stroke="#951536" stroke-width="1.2100000000000002" />
<polyline points="320.8,363.8 326.6,353.5 340.6,325.2 382.1,290.5 504.6,263.4" fill="none" stroke="#c0143a" stroke-width="1.3" stroke-linejoin="round" />
<circle cx="320.8" cy="363.8" r="3.2" fill="#c8123a" stroke="#8a0a28" stroke-width="0.7"/>
<circle cx="326.6" cy="353.5" r="3.2" fill="#c8123a" stroke="#8a0a28" stroke-width="0.7"/>
<circle cx="340.6" cy="325.2" r="3.2" fill="#c8123a" stroke="#8a0a28" stroke-width="0.7"/>
<circle cx="382.1" cy="290.5" r="3.2" fill="#c8123a" stroke="#8a0a28" stroke-width="0.7"/>
<circle cx="504.6" cy="263.4" r="3.2" fill="#c8123a" stroke="#8a0a28" stroke-width="0.7"/>
<text x="492.2" y="262" font-size="9" text-anchor="end" fill="#c0143a" font-weight="normal" stroke="#c0143a" stroke-width="0.08" >KKO</text>
<text x="507.3" y="319.8" font-size="8.5" text-anchor="end" fill="#222" font-weight="normal" stroke="#222" stroke-width="0.08" >N = 4-6</text>
<text x="499" y="361" font-size="9" text-anchor="end" fill="#1f4f85" font-weight="normal" stroke="#1f4f85" stroke-width="0.08" >DGKKO</text>
<text x="143.3" y="435.3" font-size="13" text-anchor="start" fill="#111" font-weight="bold" >E</text>
<text x="278.5" y="435.3" font-size="10.2" text-anchor="middle" fill="#222" font-weight="normal" stroke="#222" stroke-width="0.08" >C3c deposition</text>
<line x1="184.5" y1="579.5" x2="372" y2="579.5" stroke="#1a1a1a" stroke-width="1.3" />
<line x1="184.5" y1="442.1" x2="184.5" y2="579.5" stroke="#1a1a1a" stroke-width="1.3" />
<line x1="184.5" y1="579.5" x2="184.5" y2="582.5" stroke="#1a1a1a" stroke-width="1.1" />
<text x="184.6" y="593" font-size="8.8" text-anchor="middle" fill="#333" font-weight="normal" stroke="#333" stroke-width="0.08" >0</text>
<line x1="230.5" y1="579.5" x2="230.5" y2="582.5" stroke="#1a1a1a" stroke-width="1.1" />
<text x="230.65" y="593" font-size="8.8" text-anchor="middle" fill="#333" font-weight="normal" stroke="#333" stroke-width="0.08" >50</text>
<line x1="276.5" y1="579.5" x2="276.5" y2="582.5" stroke="#1a1a1a" stroke-width="1.1" />
<text x="276.7" y="593" font-size="8.8" text-anchor="middle" fill="#333" font-weight="normal" stroke="#333" stroke-width="0.08" >100</text>
<line x1="322.5" y1="579.5" x2="322.5" y2="582.5" stroke="#1a1a1a" stroke-width="1.1" />
<text x="322.75" y="593" font-size="8.8" text-anchor="middle" fill="#333" font-weight="normal" stroke="#333" stroke-width="0.08" >150</text>
<line x1="368.5" y1="579.5" x2="368.5" y2="582.5" stroke="#1a1a1a" stroke-width="1.1" />
<text x="368.8" y="593" font-size="8.8" text-anchor="middle" fill="#333" font-weight="normal" stroke="#333" stroke-width="0.08" >200</text>
<line x1="181.5" y1="579.5" x2="184.5" y2="579.5" stroke="#1a1a1a" stroke-width="1.1" />
<text x="178.8" y="582" font-size="8.8" text-anchor="end" fill="#333" font-weight="normal" stroke="#333" stroke-width="0.08" >0</text>
<line x1="181.5" y1="559.5" x2="184.5" y2="559.5" stroke="#1a1a1a" stroke-width="1.1" />
<text x="178.8" y="562.8" font-size="8.8" text-anchor="end" fill="#333" font-weight="normal" stroke="#333" stroke-width="0.08" >2</text>
<line x1="181.5" y1="540.5" x2="184.5" y2="540.5" stroke="#1a1a1a" stroke-width="1.1" />
<text x="178.8" y="543.6" font-size="8.8" text-anchor="end" fill="#333" font-weight="normal" stroke="#333" stroke-width="0.08" >4</text>
<line x1="181.5" y1="521.5" x2="184.5" y2="521.5" stroke="#1a1a1a" stroke-width="1.1" />
<text x="178.8" y="524.4" font-size="8.8" text-anchor="end" fill="#333" font-weight="normal" stroke="#333" stroke-width="0.08" >6</text>
<line x1="181.5" y1="502.5" x2="184.5" y2="502.5" stroke="#1a1a1a" stroke-width="1.1" />
<text x="178.8" y="505.2" font-size="8.8" text-anchor="end" fill="#333" font-weight="normal" stroke="#333" stroke-width="0.08" >8</text>
<line x1="181.5" y1="483.5" x2="184.5" y2="483.5" stroke="#1a1a1a" stroke-width="1.1" />
<text x="178.8" y="486" font-size="8.8" text-anchor="end" fill="#333" font-weight="normal" stroke="#333" stroke-width="0.08" >10</text>
<line x1="181.5" y1="463.5" x2="184.5" y2="463.5" stroke="#1a1a1a" stroke-width="1.1" />
<text x="178.8" y="466.8" font-size="8.8" text-anchor="end" fill="#333" font-weight="normal" stroke="#333" stroke-width="0.08" >12</text>
<line x1="181.5" y1="444.5" x2="184.5" y2="444.5" stroke="#1a1a1a" stroke-width="1.1" />
<text x="178.8" y="447.6" font-size="8.8" text-anchor="end" fill="#333" font-weight="normal" stroke="#333" stroke-width="0.08" >14</text>
<text x="0" y="0" font-size="9.5" text-anchor="middle" fill="#222" stroke="#222" stroke-width="0.3" font-weight="normal" transform="translate(278.5,608.3) scale(0.8344,1)" >IgG (µg/ml)</text>
<g transform="translate(162.6,510.2) rotate(-90) scale(0.85,1)"><text x="0" y="0" font-size="7.2" text-anchor="middle" fill="#222" stroke="#222" stroke-width="0.2">C3c (MFI ×10<tspan dy="-2.5" font-size="4.8">2</tspan><tspan dy="2.5">)</tspan></text></g>
<line x1="204.4" y1="543.8" x2="204.4" y2="551.5" stroke="#1c3a62" stroke-width="1.1" />
<line x1="201.65" y1="543.8" x2="207.15" y2="543.8" stroke="#1c3a62" stroke-width="1.2100000000000002" />
<line x1="201.65" y1="551.5" x2="207.15" y2="551.5" stroke="#1c3a62" stroke-width="1.2100000000000002" />
<line x1="245.2" y1="528.2" x2="245.2" y2="542" stroke="#1c3a62" stroke-width="1.1" />
<line x1="242.45" y1="528.2" x2="247.95" y2="528.2" stroke="#1c3a62" stroke-width="1.2100000000000002" />
<line x1="242.45" y1="542" x2="247.95" y2="542" stroke="#1c3a62" stroke-width="1.2100000000000002" />
<line x1="368.7" y1="523.3" x2="368.7" y2="535.8" stroke="#1c3a62" stroke-width="1.1" />
<line x1="365.95" y1="523.3" x2="371.45" y2="523.3" stroke="#1c3a62" stroke-width="1.2100000000000002" />
<line x1="365.95" y1="535.8" x2="371.45" y2="535.8" stroke="#1c3a62" stroke-width="1.2100000000000002" />
<polyline points="185.6,571.2 190.4,560.2 204.4,547.7 245.2,535.1 368.7,529.2" fill="none" stroke="#1f4f85" stroke-width="1.3" stroke-linejoin="round" />
<circle cx="185.6" cy="571.2" r="3.4" fill="#1f4e8e" stroke="#0f2d5c" stroke-width="0.7"/>
<circle cx="190.4" cy="560.2" r="3.4" fill="#1f4e8e" stroke="#0f2d5c" stroke-width="0.7"/>
<circle cx="204.4" cy="547.7" r="3.4" fill="#1f4e8e" stroke="#0f2d5c" stroke-width="0.7"/>
<circle cx="245.2" cy="535.1" r="3.4" fill="#1f4e8e" stroke="#0f2d5c" stroke-width="0.7"/>
<circle cx="368.7" cy="529.2" r="3.4" fill="#1f4e8e" stroke="#0f2d5c" stroke-width="0.7"/>
<line x1="190.4" y1="543.3" x2="190.4" y2="552" stroke="#951536" stroke-width="1.1" />
<line x1="187.65" y1="543.3" x2="193.15" y2="543.3" stroke="#951536" stroke-width="1.2100000000000002" />
<line x1="187.65" y1="552" x2="193.15" y2="552" stroke="#951536" stroke-width="1.2100000000000002" />
<line x1="204.4" y1="518.3" x2="204.4" y2="540.8" stroke="#951536" stroke-width="1.1" />
<line x1="201.65" y1="518.3" x2="207.15" y2="518.3" stroke="#951536" stroke-width="1.2100000000000002" />
<line x1="201.65" y1="540.8" x2="207.15" y2="540.8" stroke="#951536" stroke-width="1.2100000000000002" />
<line x1="245.2" y1="463.5" x2="245.2" y2="499.5" stroke="#951536" stroke-width="1.1" />
<line x1="242.45" y1="463.5" x2="247.95" y2="463.5" stroke="#951536" stroke-width="1.2100000000000002" />
<line x1="242.45" y1="499.5" x2="247.95" y2="499.5" stroke="#951536" stroke-width="1.2100000000000002" />
<line x1="368.7" y1="458" x2="368.7" y2="477" stroke="#951536" stroke-width="1.1" />
<line x1="365.95" y1="458" x2="371.45" y2="458" stroke="#951536" stroke-width="1.2100000000000002" />
<line x1="365.95" y1="477" x2="371.45" y2="477" stroke="#951536" stroke-width="1.2100000000000002" />
<polyline points="185.6,559.6 190.4,547.5 204.4,529.8 245.2,481.5 368.7,467.1" fill="none" stroke="#c0143a" stroke-width="1.3" stroke-linejoin="round" />
<circle cx="185.6" cy="559.6" r="3.2" fill="#c8123a" stroke="#8a0a28" stroke-width="0.7"/>
<circle cx="190.4" cy="547.5" r="3.2" fill="#c8123a" stroke="#8a0a28" stroke-width="0.7"/>
<circle cx="204.4" cy="529.8" r="3.2" fill="#c8123a" stroke="#8a0a28" stroke-width="0.7"/>
<circle cx="245.2" cy="481.5" r="3.2" fill="#c8123a" stroke="#8a0a28" stroke-width="0.7"/>
<circle cx="368.7" cy="467.1" r="3.2" fill="#c8123a" stroke="#8a0a28" stroke-width="0.7"/>
<text x="357.3" y="460.3" font-size="9" text-anchor="end" fill="#c0143a" font-weight="normal" stroke="#c0143a" stroke-width="0.08" >KKO</text>
<text x="366" y="514.5" font-size="8.5" text-anchor="end" fill="#222" font-weight="normal" stroke="#222" stroke-width="0.08" >N = 3</text>
<text x="357.3" y="541.3" font-size="9" text-anchor="end" fill="#1f4f85" font-weight="normal" stroke="#1f4f85" stroke-width="0.08" >DGKKO</text>
<rect x="0.5" y="0.5" width="519" height="617" fill="none" stroke="#555" stroke-width="1"/>
</svg>
</body></html>
